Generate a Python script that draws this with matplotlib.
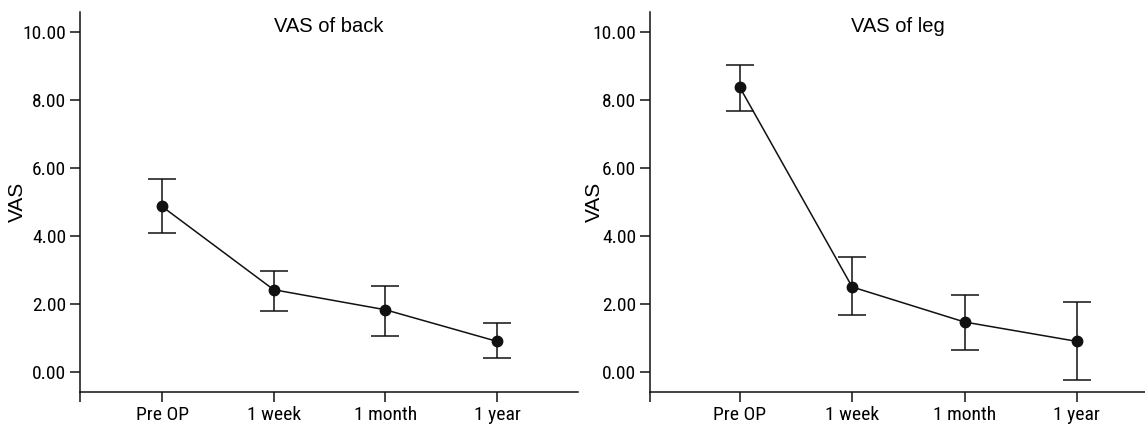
import matplotlib
matplotlib.use('Agg')
import matplotlib.pyplot as plt

plt.rcParams['font.family'] = ['Roboto Condensed', 'Archivo Narrow', 'DejaVu Sans']
TITLE_FONT = ['Arimo', 'Liberation Sans', 'DejaVu Sans']

# time points
categories = ['Pre OP', '1 week', '1 month', '1 year']
yticks = [0, 2, 4, 6, 8, 10]

# VAS of back: mean, upper and lower ends of the error bars
back_mean = [4.87, 2.42, 1.83, 0.90]
back_upper = [5.67, 2.97, 2.53, 1.45]
back_lower = [4.10, 1.80, 1.07, 0.40]

# VAS of leg
leg_mean = [8.37, 2.50, 1.47, 0.90]
leg_upper = [9.03, 3.37, 2.25, 2.07]
leg_lower = [7.67, 1.68, 0.65, -0.25]

fig = plt.figure(figsize=(11.45, 4.25), dpi=100)
ax1 = fig.add_axes([0.0699, 0.0776, 0.4349, 0.8942])
ax2 = fig.add_axes([0.5677, 0.0776, 0.4323, 0.8942])


def draw(ax, title, mean, upper, lower, xlim, labelx):
    x = list(range(len(categories)))
    err = [[m - lo for m, lo in zip(mean, lower)],
           [up - m for m, up in zip(mean, upper)]]
    ax.errorbar(x, mean, yerr=err, color='#111111', lw=1.1, marker='o',
                markersize=7.5, capsize=10, elinewidth=1.1, capthick=1.1)
    ax.set_xlim(*xlim)
    ax.set_ylim(-0.59, 10.59)
    ax.set_xticks(x)
    ax.set_xticklabels(categories, fontsize=14)
    ax.set_xticks([xlim[0]], minor=True)
    ax.set_yticks(yticks)
    ax.set_yticklabels(['%.2f' % v for v in yticks], fontsize=14)
    ax.set_ylabel('VAS', fontsize=15, family=TITLE_FONT)
    ax.yaxis.set_label_coords(labelx, 0.5)
    ax.tick_params(axis='both', which='both', direction='out', length=7,
                   width=1.1, color='#111111', pad=3)
    ax.spines['top'].set_visible(False)
    ax.spines['right'].set_visible(False)
    for s in ['left', 'bottom']:
        ax.spines[s].set_linewidth(1.1)
        ax.spines[s].set_color('#111111')
    ax.text(0.5, 0.987, title, transform=ax.transAxes, ha='center', va='top',
            fontsize=14.5, family=TITLE_FONT)


draw(ax1, 'VAS of back', back_mean, back_upper, back_lower, (-0.734, 3.725), -0.106)
draw(ax2, 'VAS of leg', leg_mean, leg_upper, leg_lower, (-0.80, 3.607), -0.093)

fig.savefig('out.png', dpi=100)
